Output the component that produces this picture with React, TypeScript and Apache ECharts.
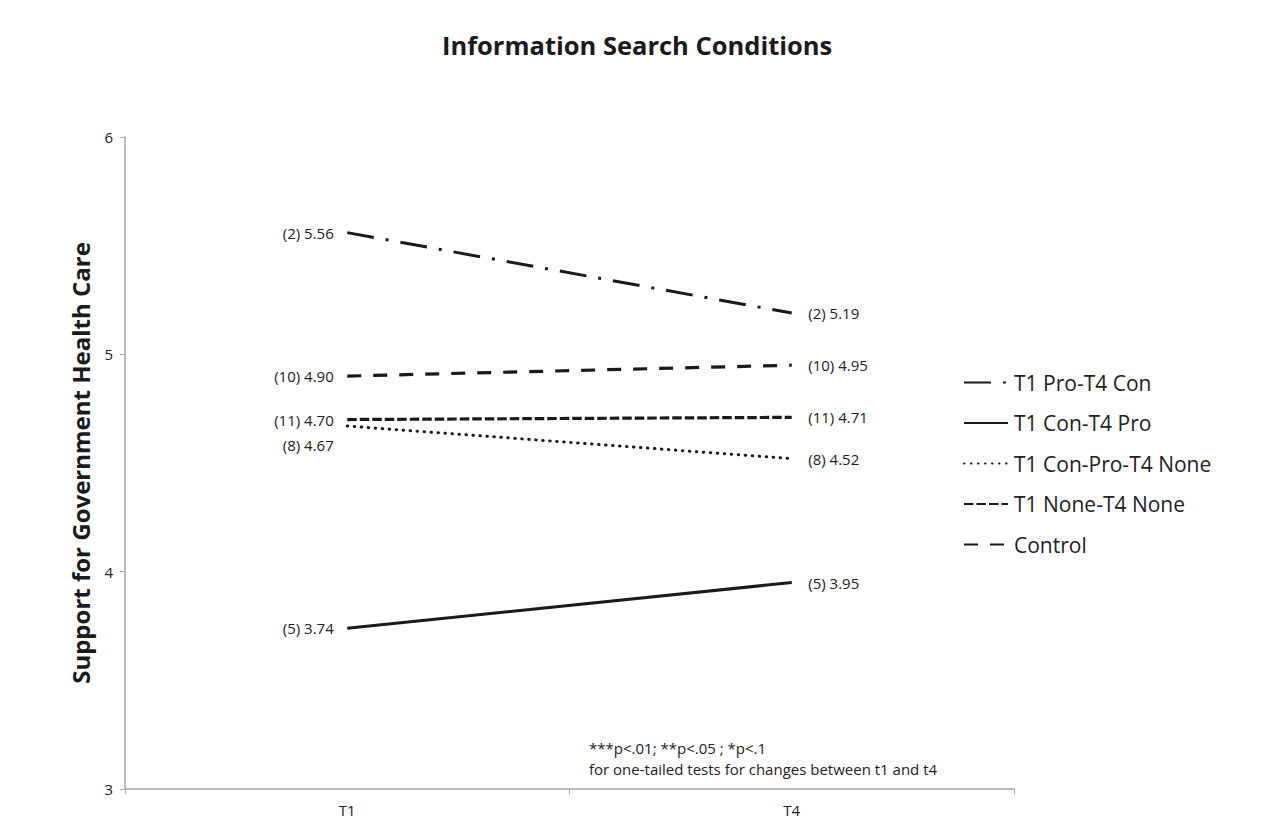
import React, { useEffect, useRef } from "react";
import * as echarts from "echarts";

const categories = ["T1", "T4"];
const seriesNames = [
  "T1 Pro-T4 Con",
  "T1 Con-T4 Pro",
  "T1 Con-Pro-T4 None",
  "T1 None-T4 None",
  "Control",
];
const proConValues = [5.56, 5.19];
const conProValues = [3.74, 3.95];
const conProNoneValues = [4.67, 4.52];
const noneNoneValues = [4.7, 4.71];
const controlValues = [4.9, 4.95];
const proConN = [2, 2];
const conProN = [5, 5];
const conProNoneN = [8, 8];
const noneNoneN = [11, 11];
const controlN = [10, 10];
const yTicks = [3, 4, 5, 6];
const noteLines = [
  "***p<.01; **p<.05 ; *p<.1",
  "for one-tailed tests for changes between t1 and t4",
];

const FONT = "Open Sans";
const INK = "#1a1a1a";

function makeSeries(
  name: string,
  values: number[],
  ns: number[],
  dash: any,
  width: number,
  cap: string,
  leftOffsetY = 0
) {
  return {
    name,
    type: "line",
    symbol: "circle",
    symbolSize: 1,
    showSymbol: true,
    lineStyle: { color: INK, width, type: dash, cap },
    itemStyle: { color: "rgba(0,0,0,0)", borderWidth: 0 },
    emphasis: { disabled: true },
    data: values.map((v, i) => ({
      value: v,
      label: {
        show: true,
        position: i === 0 ? "left" : "right",
        distance: i === 0 ? 13 : 16,
        offset: i === 0 ? [0, leftOffsetY] : [0, 0],
        formatter: `(${ns[i]}) ${v.toFixed(2)}`,
        color: "#222",
        fontFamily: FONT,
        fontSize: 15,
      },
    })),
  };
}

export default function App() {
  const ref = useRef<HTMLDivElement>(null);
  useEffect(() => {
    if (!ref.current) return;
    const chart = echarts.init(ref.current, null, { renderer: "svg" });
    chart.setOption({
      animation: false,
      backgroundColor: "#fff",
      title: {
        text: "Information Search Conditions",
        left: 437,
        top: 27,
        textStyle: { fontFamily: FONT, fontSize: 25.5, fontWeight: "bold", color: INK },
      },
      grid: { left: 125, right: 270, top: 137, bottom: 41 },
      legend: {
        orient: "vertical",
        left: 958,
        top: 367,
        itemWidth: 44,
        itemHeight: 14,
        itemGap: 19.5,
        data: seriesNames,
        itemStyle: { color: "rgba(0,0,0,0)", opacity: 0, borderWidth: 0 },
        textStyle: { fontFamily: FONT, fontSize: 21, color: "#222", padding: [0, 0, 0, 1] },
      },
      xAxis: {
        type: "category",
        data: categories,
        boundaryGap: true,
        axisLine: { lineStyle: { color: "#a6a6a6", width: 1.5 } },
        axisTick: { show: true, length: 5, lineStyle: { color: "#a6a6a6" } },
        axisLabel: { color: "#222", fontFamily: FONT, fontSize: 15, margin: 13 },
      },
      yAxis: {
        type: "value",
        min: yTicks[0],
        max: yTicks[yTicks.length - 1],
        interval: 1,
        name: "Support for Government Health Care",
        nameLocation: "middle",
        nameGap: 33,
        nameRotate: 90,
        nameTextStyle: { fontFamily: FONT, fontSize: 24, fontWeight: "bold", color: INK },
        axisLine: { show: true, lineStyle: { color: "#a6a6a6", width: 1.5 } },
        axisTick: { show: true, length: 5, lineStyle: { color: "#a6a6a6" } },
        splitLine: { show: false },
        axisLabel: { color: "#222", fontFamily: FONT, fontSize: 15, margin: 12 },
      },
      graphic: [
        {
          type: "line",
          shape: { x1: 5, y1: 5, x2: 1279, y2: 5 },
          style: { stroke: "#333", lineWidth: 2 },
        },
        {
          type: "text",
          left: 589,
          top: 737,
          style: {
            text: noteLines.join("\n"),
            fontFamily: FONT,
            fontSize: 15,
            lineHeight: 21,
            fill: "#222",
          },
        },
      ],
      series: [
        makeSeries(seriesNames[0], proConValues, proConN, [27, 12, 3, 12], 3, "butt"),
        makeSeries(seriesNames[1], conProValues, conProN, "solid", 3, "butt"),
        makeSeries(seriesNames[2], conProNoneValues, conProNoneN, [0.5, 6.5], 3, "round", 19),
        makeSeries(seriesNames[3], noneNoneValues, noneNoneN, [9.5, 3], 3.2, "butt"),
        makeSeries(seriesNames[4], controlValues, controlN, [14, 12], 3.2, "butt"),
      ],
    });
    return () => chart.dispose();
  }, []);
  return <div ref={ref} style={{ width: 1284, height: 830, margin: -8 }} />;
}
